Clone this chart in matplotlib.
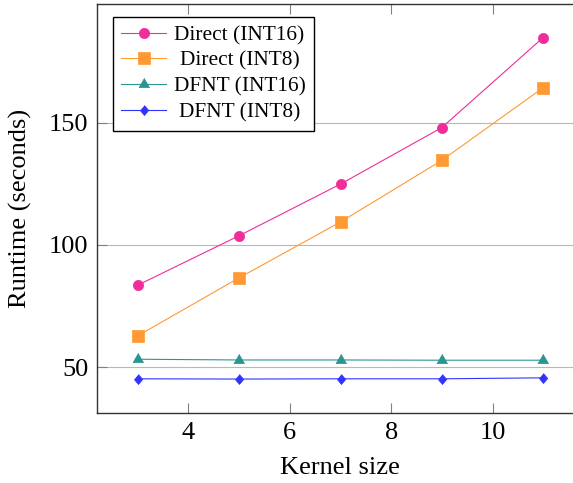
import matplotlib
matplotlib.use("Agg")
import matplotlib.pyplot as plt
from matplotlib.transforms import Bbox

# kernel sizes and measured runtimes (seconds)
kernel_size = [3, 5, 7, 9, 11]
direct_int16 = [83.6, 103.8, 124.9, 148.0, 184.8]
direct_int8 = [62.9, 86.6, 109.4, 134.6, 164.3]
dfnt_int16 = [53.3, 53.0, 53.0, 52.9, 52.9]
dfnt_int8 = [45.3, 45.2, 45.3, 45.3, 45.7]

plt.rcParams['font.family'] = ['Liberation Serif', 'DejaVu Serif']

# pgfplots-like marker shapes
tri = [(0, 1), (-0.866, -0.5), (0.866, -0.5)]
diamond = [(0, 1), (0.85, 0), (0, -1), (-0.85, 0)]

fig = plt.figure(figsize=(5.73, 4.83), dpi=100)
ax = fig.add_axes([0.1698, 0.1443, 0.8489, 0.8474])

ax.plot(kernel_size, direct_int16, '-o', color='#ee2e9a', lw=0.8, ms=7.4, mew=0.5,
        label='Direct (INT16)')
ax.plot(kernel_size, direct_int8, '-s', color='#ff9933', lw=0.8, ms=8.2, mew=0.5,
        label='Direct (INT8)')
ax.plot(kernel_size, dfnt_int16, '-', marker=tri, color='#2a9691', lw=0.8, ms=9.0, mew=0.5,
        label='DFNT (INT16)')
ax.plot(kernel_size, dfnt_int8, '-', marker=diamond, color='#3333ff', lw=0.8, ms=7.2, mew=0.5,
        label='DFNT (INT8)')

ax.set_xlim(2.2, 11.8)
ax.set_ylim(31.2, 198.5)
ax.set_xticks([4, 6, 8, 10])
ax.set_yticks([50, 100, 150])
ax.yaxis.grid(True, color='#b8b8b8', lw=0.8)
ax.set_axisbelow(True)

ax.tick_params(direction='in', length=7, width=0.8, color='#808080',
               top=True, right=True, labelsize=19, pad=6.5)
for s in ax.spines.values():
    s.set_color('#333333')
    s.set_linewidth(1)

ax.set_xlabel('Kernel size', fontsize=19)
ax.set_ylabel('Runtime (seconds)', fontsize=19)
ax.xaxis.set_label_coords(0.594, 0.0528, transform=fig.transFigure)
ax.yaxis.set_label_coords(0.056, 0.568, transform=fig.transFigure)

leg = ax.legend(loc='upper left', bbox_to_anchor=(0.0317, 0.969), borderaxespad=0,
                fontsize=15.4, fancybox=False, edgecolor='black', framealpha=1,
                handlelength=2.1, borderpad=0.4, labelspacing=0.27,
                handletextpad=0.35)
leg.get_frame().set_linewidth(1)

# pgfplots centres the legend texts in their column
fig.canvas.draw()
renderer = fig.canvas.get_renderer()
W = max(t.get_window_extent(renderer).width for t in leg.get_texts())
for row in leg._legend_handle_box.get_children()[0].get_children():
    ta = row.get_children()[1]
    ta._text.set_ha('center')

    def fixed_bbox(r, orig=ta.get_bbox):
        bb = orig(r)
        return Bbox.from_bounds(-W / 2, bb.y0, W, bb.height)
    ta.get_bbox = fixed_bbox

fig.savefig('out.png', dpi=100)
